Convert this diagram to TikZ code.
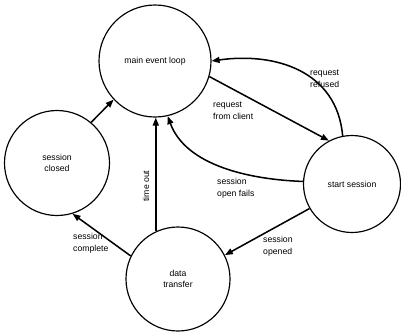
\documentclass[tikz,border=0pt]{standalone}
\usepackage{fontspec}
\setmainfont{Liberation Sans}
\usepackage{tikz}
\usetikzlibrary{arrows.meta,positioning}

\begin{document}
\begin{tikzpicture}[
  x=0.03cm, y=-0.03cm,
  font=\fontsize{7.4}{10}\selectfont,
  state/.style={draw, circle, line width=1pt, align=center, inner sep=0pt},
  lbl/.style={anchor=west, align=left, inner sep=0pt},
  arr/.style={-{Triangle[length=2.4mm, width=1.8mm]}, line width=1.3pt}
]
\useasboundingbox (0,0) rectangle (401,331);
% states
\node[state, minimum size=3.36cm] (main) at (155,61) {main event loop};
\node[state, minimum size=3.15cm] (closed) at (57,163) {session\\closed};
\node[state, minimum size=2.91cm] (start) at (352,184) {start session};
\node[state, minimum size=3.12cm] (data) at (178,279) {data\\transfer};
% transitions
\draw[arr] (closed.50) -- (main.223);
\draw[arr] (data.115) -- (data.115 |- main.south);
\draw[arr] (main.344) -- (start.118);
\draw[arr] (start.101) to[out=95, in=8, looseness=1.1] (main.0);
\draw[arr] (start.177) to[out=178, in=-70, looseness=0.9] (main.283);
\draw[arr] (start.210) -- (data.27);
\draw[arr] (data.154) -- (closed.287);
% labels
\node[lbl] (l1) at (213,111) {request\\from client};
\node[lbl] (l2) at (310,79) {request\\refused};
\node[lbl] (l3) at (217,188) {session\\open fails};
\node[lbl] (l4) at (263,246) {session\\opened};
\node[lbl] (l5) at (73,243) {session\\complete};
\node[rotate=90, inner sep=0pt] (l6) at (146,186) {time out};
\end{tikzpicture}
\end{document}
